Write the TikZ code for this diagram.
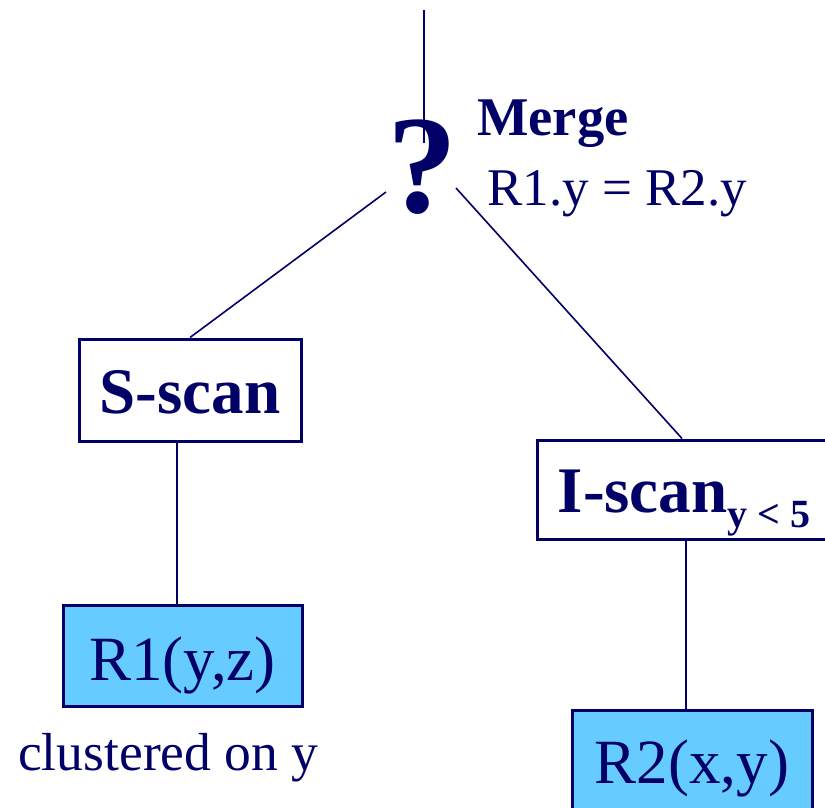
\documentclass[tikz,border=0pt]{standalone}
\usepackage{fontspec}
\setmainfont{Liberation Serif}
\definecolor{navy}{HTML}{000066}
\definecolor{relblue}{HTML}{66CCFF}
\tikzset{
  link/.style={draw=navy, line width=1.6pt},
  opbox/.style={draw=navy, line width=3pt, fill=white, inner sep=0pt, text=navy,
    font=\fontsize{65}{65}\selectfont\bfseries, text depth=0pt},
  relbox/.style={draw=navy, line width=3pt, fill=relblue, inner sep=0pt, text=navy,
    font=\fontsize{63}{63}\selectfont, text depth=0pt},
  lbl/.style={text=navy, inner sep=0pt, anchor=base west}
}
\begin{document}
\begin{tikzpicture}[x=1pt,y=-1pt]
\useasboundingbox[fill=white] (0,0) rectangle (825,807);
% nodes
\node[text=navy, inner sep=0pt, anchor=base, font=\fontsize{140}{140}\selectfont\bfseries] (q) at (422,212) {?};
\node[lbl, font=\fontsize{54.5}{54.5}\selectfont\bfseries] (merge) at (477,135) {Merge};
\node[lbl, font=\fontsize{53}{53}\selectfont] (cond) at (487,205) {R1.y = R2.y};
\node[opbox, minimum width=222pt, minimum height=102pt, text height=46pt] (sscan) at (190,390) {S-scan};
\node[opbox, minimum width=294pt, minimum height=99pt, text height=45pt] (iscan) at (684,489.5)
  {I-scan\raisebox{-15pt}{\fontsize{40}{40}\selectfont y < 5}};
\node[relbox, minimum width=239pt, minimum height=101pt, text height=49pt] (r1) at (182.5,655.5) {R1(y,z)};
\node[relbox, minimum width=240pt, minimum height=100pt, text height=46pt] (r2) at (692,760) {R2(x,y)};
\node[lbl, font=\fontsize{53.5}{53.5}\selectfont] (clus) at (18,770) {clustered on y};
% connector ends
\coordinate (top) at (424,10);
\coordinate (qtop) at (424,143);
\coordinate (qL) at (386,192);
\coordinate (qR) at (456,188);
% connectors
\draw[link] (top) -- (qtop);
\draw[link] (qL) -- (sscan.north);
\draw[link] (qR) -- (iscan.north -| 682,0);
\draw[link] (sscan.south -| 177,0) -- (r1.north -| 177,0);
\draw[link] (iscan.south -| 686,0) -- (r2.north -| 686,0);
\end{tikzpicture}
\end{document}
